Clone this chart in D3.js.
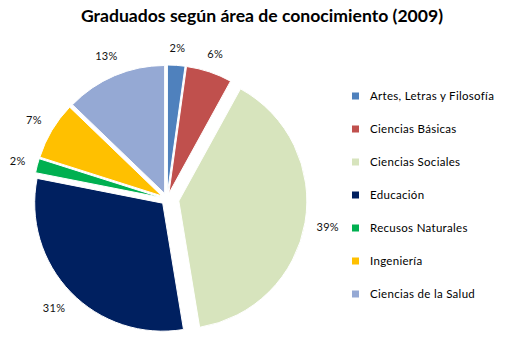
<!DOCTYPE html>
<html>
<head>
<meta charset="utf-8">
<script src="https://cdn.jsdelivr.net/npm/d3@7"></script>
<style>
  html, body { margin: 0; padding: 0; background: #ffffff; }
  svg { display: block; }
</style>
</head>
<body>
<svg id="chart" width="514" height="360"></svg>
<script>
// ---- data ----
const categories = ["Artes, Letras y Filosofía", "Ciencias Básicas", "Ciencias Sociales", "Educación", "Recusos Naturales", "Ingeniería", "Ciencias de la Salud"];
const values = [2.2, 5.8, 39.4, 30.7, 1.8, 7.3, 12.8];
const colors = ["#4F81BD", "#C0504D", "#D7E4BD", "#002060", "#00B050", "#FFC000", "#95A9D4"];
const explode = [6, 6, 12, 6, 6, 6, 6];
const title = "Graduados según área de conocimiento (2009)";

// ---- layout ----
const cx = 167, cy = 199, R = 128;
const svg = d3.select("#chart");
const font = "Lato, 'Open Sans', sans-serif";

svg.append("text")
  .attr("x", 262).attr("y", 22)
  .attr("text-anchor", "middle")
  .attr("font-family", font)
  .attr("font-weight", "bold")
  .attr("font-size", 17.6)
  .attr("fill", "#000")
  .text(title);

const total = d3.sum(values);
const pie = d3.pie().sort(null).value(d => d)(values);
const arc = d3.arc().innerRadius(0).outerRadius(R);
const pct = d3.format(".0%");

const g = svg.append("g").attr("transform", `translate(${cx},${cy})`);

pie.forEach((p, i) => {
  const mid = (p.startAngle + p.endAngle) / 2;
  const dx = Math.sin(mid) * explode[i], dy = -Math.cos(mid) * explode[i];
  g.append("path")
    .attr("d", arc(p))
    .attr("transform", `translate(${dx},${dy})`)
    .attr("fill", colors[i])
    .attr("stroke", "#fff")
    .attr("stroke-width", 1);
});

// labels
pie.forEach((p, i) => {
  const mid = (p.startAngle + p.endAngle) / 2;
  const s = Math.sin(mid), c = -Math.cos(mid);
  const t = g.append("text")
    .attr("font-family", font)
    .attr("font-size", 11)
    .attr("letter-spacing", 0.3)
    .attr("fill", "#111")
    .attr("text-anchor", "middle")
    .text(pct(p.value / total));
  const w = t.node().getComputedTextLength();
  const hw = w / 2, hh = 6;
  const support = hw * Math.abs(s) + hh * Math.abs(c);
  const r = R + explode[i] + 11 + support;
  t.attr("x", s * r).attr("y", c * r + 4);
});

// legend
const legend = svg.append("g");
categories.forEach((name, i) => {
  const y = 96 + i * 33;
  legend.append("rect")
    .attr("x", 352).attr("y", y - 3.5)
    .attr("width", 7).attr("height", 7)
    .attr("fill", colors[i]);
  legend.append("text")
    .attr("x", 370).attr("y", y + 4)
    .attr("font-family", font)
    .attr("font-size", 11.5)
    .attr("letter-spacing", 0.3)
    .attr("fill", "#000")
    .text(name);
});
</script>
</body>
</html>
